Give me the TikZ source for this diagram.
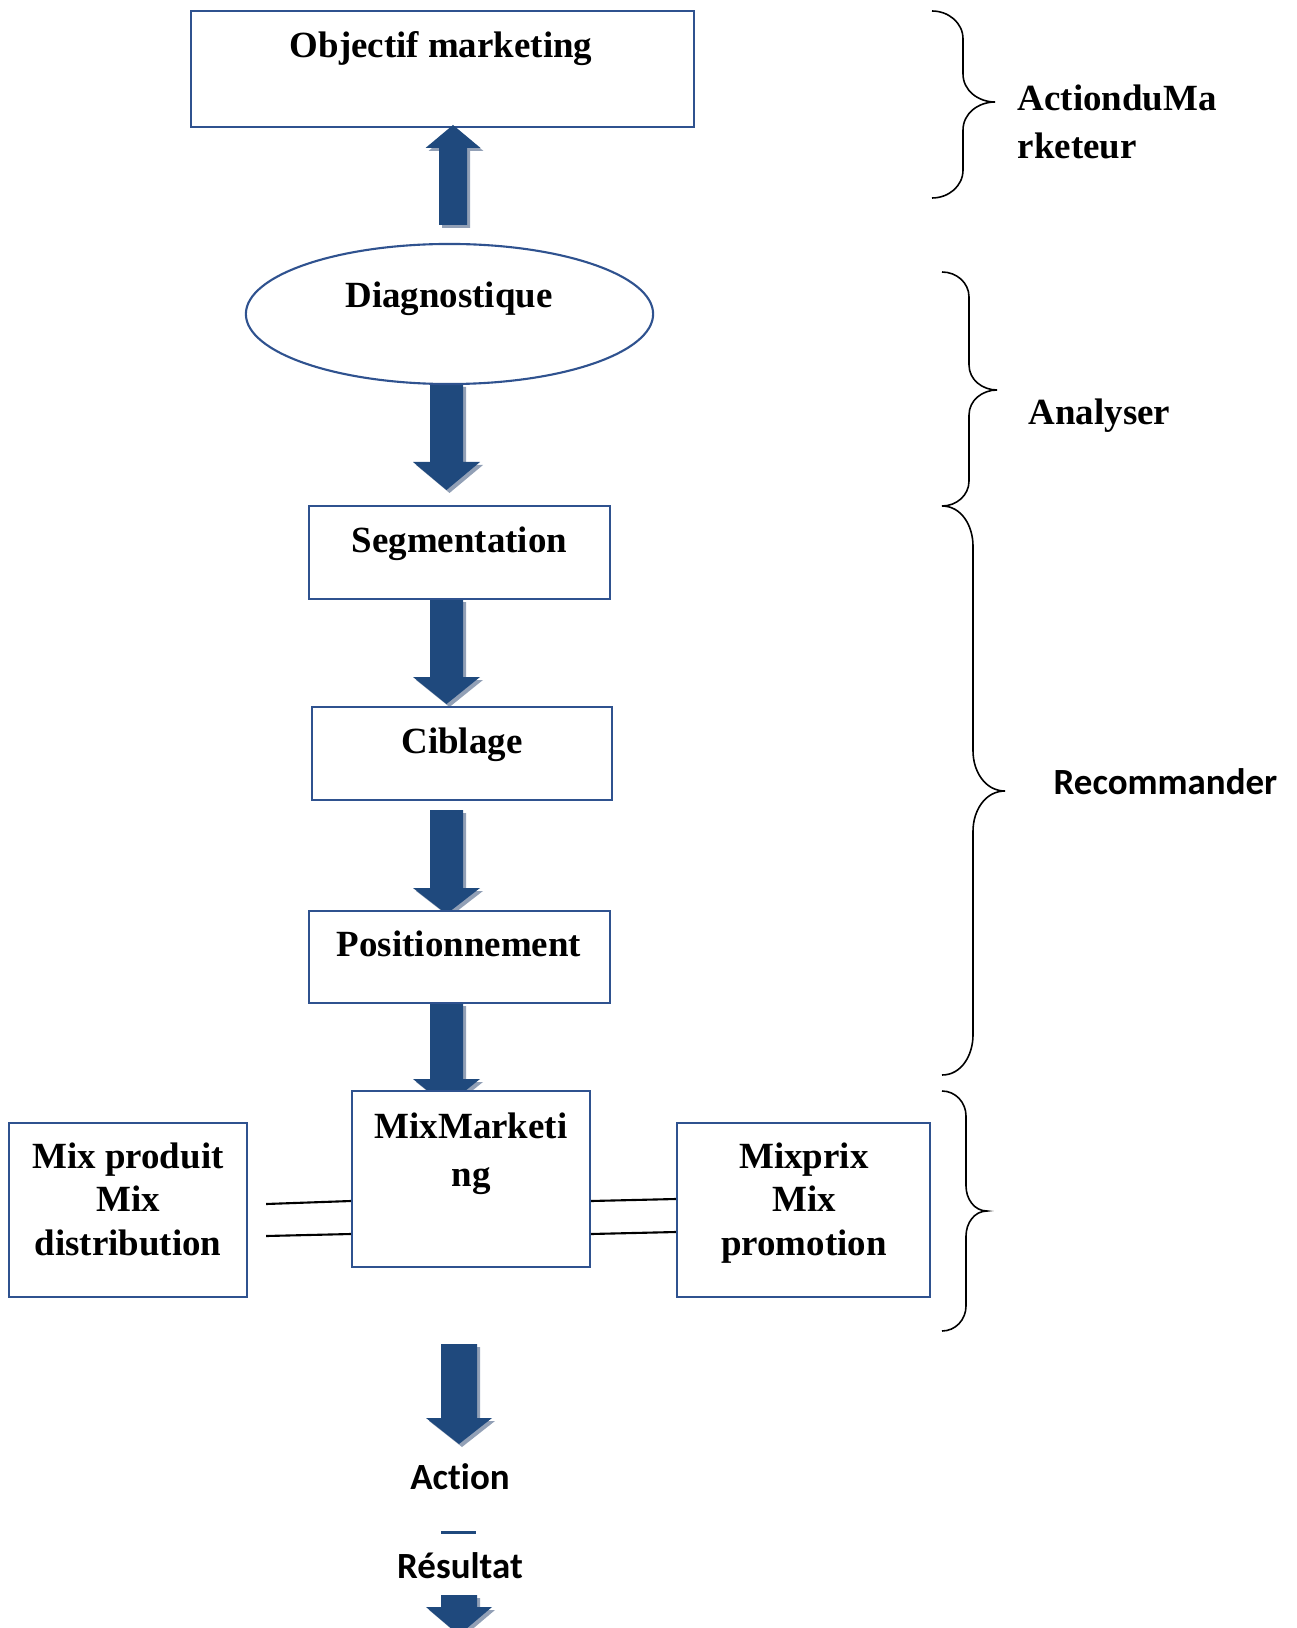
\documentclass[tikz,border=0pt]{standalone}
\usepackage{fontspec}
\setmainfont{Liberation Serif}
\newfontfamily\calibfont[Ligatures=NoCommon]{Carlito}
\usetikzlibrary{shapes.geometric,calc}

\definecolor{arrowblue}{RGB}{31,73,125}
\definecolor{arrowshade}{RGB}{146,160,182}
\definecolor{boxline}{RGB}{47,82,143}

% block arrow: centre x, tail y, head base y, tip y, half shaft width, half head width
\newcommand\blockarrow[6]{%
  \foreach \dd/\col in {3/arrowshade,0/arrowblue}{%
    \fill[\col,shift={(\dd,\dd)}] (#1-#5,#2) -- (#1+#5,#2) -- (#1+#5,#3) -- (#1+#6,#3)
      -- (#1,#4) -- (#1-#6,#3) -- (#1-#5,#3) -- cycle;}}

% right curly brace: start x, stem x, tip x, top y, tip y, bottom y, corner radius
\newcommand\curlybrace[7]{%
  \draw[curly] (#1,#4) to[out=0,in=90] (#2,#4+#7) -- (#2,#5-#7)
    to[out=-90,in=180] (#3,#5) to[out=180,in=90] (#2,#5+#7) -- (#2,#6-#7)
    to[out=-90,in=0] (#1,#6);}

\begin{document}
\begin{tikzpicture}[x=0.01cm,y=-0.01cm,
  box/.style={draw=boxline,line width=0.6pt,fill=white,inner sep=0pt},
  lbl/.style={font=\fontsize{10.5}{12.4}\selectfont\bfseries,inner sep=0pt,anchor=base},
  sanslbl/.style={font=\fontsize{10.5}{12.4}\selectfont\calibfont\bfseries,inner sep=0pt,anchor=base},
  curly/.style={line width=0.45pt,black},
  link/.style={line width=0.6pt,black}]
\useasboundingbox (0,0) rectangle (1296,1628);
\clip (0,0) rectangle (1296,1628);

% downward flow arrows (drawn below the boxes)
\blockarrow{446.5}{384}{462}{490}{16.5}{33.5}
\blockarrow{446.5}{599}{677}{704}{16.5}{33.5}
\blockarrow{446.5}{810}{888}{914}{16.5}{33.5}
\blockarrow{446.5}{1003}{1079}{1106}{16.5}{33.5}
\blockarrow{459}{1344}{1418}{1444}{18}{33}
\blockarrow{459}{1595}{1607}{1635}{18}{33}

% boxes
\node[box,minimum width=5.03cm,minimum height=1.16cm] (obj) at (442.5,69) {};
\node[box,ellipse,minimum width=4.07cm,minimum height=1.40cm] (diag) at (449.5,314) {};
\node[box,minimum width=3.01cm,minimum height=0.93cm] (seg) at (459.5,552.5) {};
\node[box,minimum width=3.00cm,minimum height=0.93cm] (cib) at (462,753.5) {};
\node[box,minimum width=3.01cm,minimum height=0.92cm] (pos) at (459.5,957) {};
\node[box,minimum width=2.38cm,minimum height=1.76cm] (mix) at (471,1179) {};
\node[box,minimum width=2.38cm,minimum height=1.74cm] (lft) at (128,1210) {};
\node[box,minimum width=2.53cm,minimum height=1.74cm] (rgt) at (803.5,1210) {};

% upward arrow into the objective box
\blockarrow{453}{225}{148}{125}{14}{27.5}

% box texts
\node[lbl] (obj-t) at (441,58) {Objectif marketing};
\node[lbl] (diag-t) at (449,308) {Diagnostique};
\node[lbl] (seg-t) at (459.5,552) {Segmentation};
\node[lbl] (cib-t) at (462,753.5) {Ciblage};
\node[lbl] (pos-t) at (459,956) {Positionnement};
\node[lbl] (mix-t) at (471,1138) {\setlength{\tabcolsep}{0pt}\fontsize{10.5}{13.7}\selectfont
  \begin{tabular}[t]{c}MixMarketi\\ng\end{tabular}};
\node[lbl] (lft-t) at (128,1168) {\setlength{\tabcolsep}{0pt}\fontsize{10.5}{12.4}\selectfont
  \begin{tabular}[t]{c}Mix produit\\Mix\\distribution\end{tabular}};
\node[lbl] (rgt-t) at (804,1168) {\setlength{\tabcolsep}{0pt}\fontsize{10.5}{12.4}\selectfont
  \begin{tabular}[t]{c}Mixprix\\Mix\\promotion\end{tabular}};

% double links between the mix boxes
\draw[link] ($(lft.east)+(18,-6)$) -- ($(mix.west)+(0,22)$);
\draw[link] ($(lft.east)+(18,26)$) -- ($(mix.west)+(0,55)$);
\draw[link] ($(mix.east)+(0,22)$) -- ($(rgt.west)+(0,-11)$);
\draw[link] ($(mix.east)+(0,55)$) -- ($(rgt.west)+(0,22)$);

% outcome
\node[sanslbl] (act) at (460,1489) {Action};
\node[sanslbl] (res) at (460,1578) {Résultat};
\draw[arrowblue,line width=0.85pt] (441,1532) -- (476,1532);

% phase braces
\curlybrace{932}{963}{995}{11}{102}{198}{28}
\curlybrace{942}{969}{997}{272}{390}{506}{25}
\curlybrace{942}{973}{1005}{506}{791}{1075}{40}
\curlybrace{942}{966}{987}{1091}{1211}{1331}{25}

\node[lbl,anchor=base west] (phase1) at (1017,111) {\setlength{\tabcolsep}{0pt}\fontsize{10.5}{13.4}\selectfont
  \begin{tabular}[t]{l}ActionduMa\\rketeur\end{tabular}};
\node[lbl,anchor=base west] (phase2) at (1028,425) {Analyser};
\node[sanslbl,anchor=base west] (phase3) at (1053,794) {Recommander};
\end{tikzpicture}
\end{document}
